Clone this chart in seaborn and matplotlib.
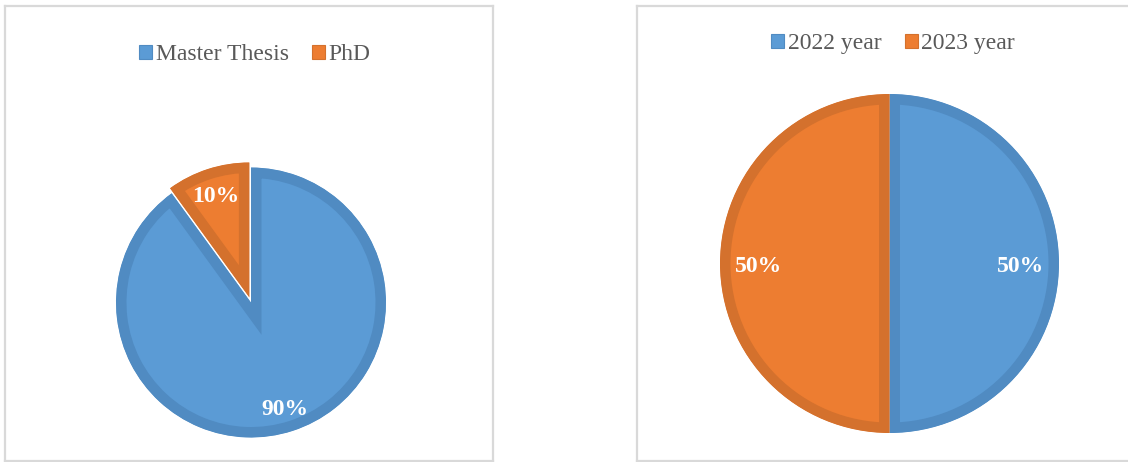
import matplotlib
matplotlib.use("Agg")
import matplotlib.pyplot as plt
from matplotlib.patches import Patch
import seaborn as sns

# Data
thesis_types = ["Master Thesis", "PhD"]
thesis_share = [90, 10]
years = ["2022 year", "2023 year"]
year_share = [50, 50]

sns.set_theme(style="white")
plt.rcParams["font.family"] = ["Liberation Serif", "DejaVu Serif"]

FILL = sns.color_palette(["#5b9bd5", "#ed7d31"])
EDGE = sns.color_palette(["#508bc2", "#d4712d"])
LEGEND_TEXT = "#595959"
FRAME = "#d9d9d9"

W, H = 1128, 462
fig = plt.figure(figsize=(W / 100, H / 100), dpi=100)
fig.patch.set_facecolor("white")


def panel(x0, y0, x1, y1):
    """Axes whose data units are figure pixels (y measured upward)."""
    ax = fig.add_axes([x0 / W, (H - y1) / H, (x1 - x0) / W, (y1 - y0) / H])
    return ax, (x0, x1), (H - y1, H - y0)


def draw_pie(box, values, labels, cx, cy, r, pctdist, explode, legend_xy):
    ax, xl, yl = box
    wedges, _, autotexts = ax.pie(
        values, colors=FILL, startangle=90, counterclock=False,
        center=(cx, H - cy), radius=r, explode=explode,
        autopct="%1.0f%%", pctdistance=pctdist, frame=True,
    )
    # Inner border on each slice: stroke clipped to the slice outline
    for w, ec in zip(wedges, EDGE):
        w.set_edgecolor(ec)
        w.set_linewidth(15.1)
        w.set_clip_path(w.get_path(), ax.transData)
        w.set_clip_on(True)
    for t in autotexts:
        t.set_color("white")
        t.set_fontweight("bold")
        t.set_fontsize(17)
        x, y = t.get_position()
        t.set_position((x, y - 3))  # center on the digits rather than the descender box
    ax.set_xlim(*xl)
    ax.set_ylim(*yl)
    ax.set_aspect("auto")
    ax.set_xticks([])
    ax.set_yticks([])
    for s in ax.spines.values():
        s.set_visible(True)
        s.set_color(FRAME)
        s.set_linewidth(1.6)
    handles = [Patch(facecolor=f, edgecolor=e, linewidth=0.8) for f, e in zip(FILL, EDGE)]
    ax.legend(handles, labels, loc="center",
              bbox_to_anchor=(legend_xy[0], H - legend_xy[1]),
              bbox_transform=ax.transData, ncol=2, frameon=False,
              fontsize=17, handlelength=0.55, handleheight=0.55,
              handletextpad=0.15, columnspacing=1.0, labelcolor=LEGEND_TEXT)


draw_pie(panel(5, 6, 493, 461), thesis_share, thesis_types,
         cx=251, cy=302.5, r=135, pctdist=0.81, explode=[0, 5.3],
         legend_xy=(255, 55))
draw_pie(panel(637, 6, 1142, 461), year_share, years,
         cx=889.5, cy=263.5, r=169.5, pctdist=0.775, explode=None,
         legend_xy=(893, 44))

fig.savefig("out.png", dpi=100, facecolor="white")
